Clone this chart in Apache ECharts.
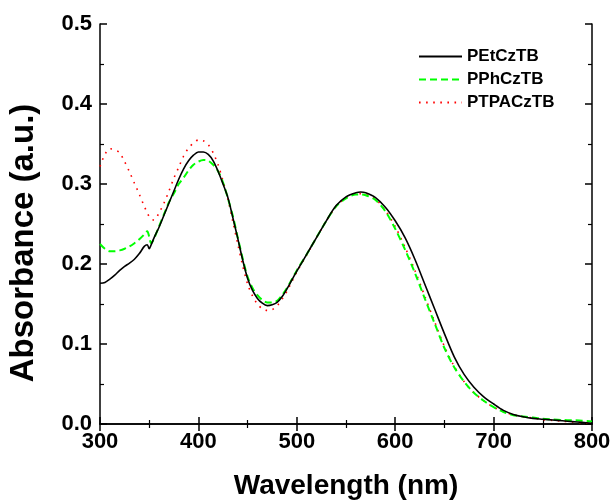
<!DOCTYPE html>
<html>
<head>
<meta charset="utf-8">
<script src="https://cdn.jsdelivr.net/npm/echarts@6/dist/echarts.min.js"></script>
<style>
html,body{margin:0;padding:0;background:#fff;}
#chart{width:613px;height:500px;}
</style>
</head>
<body>
<div id="chart"></div>
<script>
const wavelengths = [300,305,310,315,320,325,330,335,340,345,348,350,352,355,360,365,370,375,380,385,390,395,400,405,410,415,420,425,430,435,440,445,450,455,460,465,470,475,480,485,490,495,500,510,520,530,540,550,560,565,570,580,590,600,610,620,630,640,650,660,670,680,690,700,710,720,730,740,750,760,770,780,790,800];

const pEtCzTB = [0.176,0.177,0.181,0.186,0.192,0.197,0.201,0.206,0.213,0.222,0.224,0.219,0.224,0.233,0.246,0.261,0.276,0.291,0.306,0.319,0.329,0.336,0.340,0.340,0.337,0.329,0.316,0.300,0.283,0.258,0.232,0.205,0.182,0.167,0.157,0.151,0.148,0.149,0.152,0.159,0.169,0.180,0.191,0.212,0.233,0.254,0.273,0.284,0.289,0.290,0.289,0.283,0.271,0.254,0.233,0.206,0.175,0.144,0.113,0.084,0.062,0.046,0.034,0.025,0.017,0.012,0.009,0.007,0.006,0.005,0.004,0.003,0.002,0.001];

const pPhCzTB = [0.225,0.219,0.216,0.216,0.217,0.219,0.222,0.226,0.231,0.237,0.241,0.234,0.226,0.232,0.247,0.262,0.277,0.288,0.300,0.308,0.317,0.324,0.328,0.330,0.329,0.324,0.316,0.302,0.282,0.260,0.233,0.207,0.184,0.170,0.161,0.155,0.152,0.152,0.154,0.161,0.170,0.181,0.192,0.212,0.233,0.254,0.272,0.282,0.287,0.287,0.286,0.280,0.266,0.244,0.218,0.189,0.157,0.126,0.095,0.071,0.053,0.039,0.029,0.021,0.015,0.011,0.0095,0.008,0.0065,0.0058,0.005,0.0047,0.0042,0.003];

const pTPACzTB = [0.322,0.337,0.344,0.343,0.339,0.328,0.315,0.301,0.287,0.272,0.264,0.259,0.256,0.255,0.264,0.276,0.291,0.307,0.321,0.335,0.345,0.351,0.355,0.354,0.349,0.339,0.324,0.304,0.281,0.253,0.225,0.198,0.175,0.160,0.150,0.144,0.142,0.143,0.148,0.156,0.166,0.178,0.190,0.211,0.233,0.254,0.272,0.283,0.288,0.288,0.287,0.281,0.267,0.247,0.221,0.192,0.160,0.128,0.097,0.072,0.053,0.039,0.029,0.021,0.0155,0.0115,0.009,0.0075,0.0055,0.0045,0.0035,0.0025,0.0015,0.001];

const seriesNames = ['PEtCzTB','PPhCzTB','PTPACzTB'];
const xTicks = [300,400,500,600,700,800];
const yTicks = ['0.0','0.1','0.2','0.3','0.4','0.5'];

function pairs(ys){ return wavelengths.map((w,i)=>[w,ys[i]]); }

const FONT = '"Liberation Sans", Arial, sans-serif';
const chart = echarts.init(document.getElementById('chart'), null, {renderer:'canvas'});

const axisLine = {show:true, lineStyle:{color:'#000', width:1.5}};
const tickMajor = {show:true, inside:true, length:7, lineStyle:{color:'#000', width:1.5}};
const tickMinor = {show:true, splitNumber:2, length:4, lineStyle:{color:'#000', width:1.2}};

const option = {
  animation:false,
  backgroundColor:'#fff',
  grid:{left:100, right:21, top:24, bottom:76, containLabel:false, outerBoundsMode:'none'},
  legend:{
    orient:'vertical', left:413, top:43,
    itemWidth:43, itemHeight:16, itemGap:6,
    itemStyle:{opacity:0},
    textStyle:{fontFamily:FONT, fontWeight:'bold', fontSize:17, color:'#000', lineHeight:16},
    data:seriesNames
  },
  xAxis:[{
    type:'value', min:300, max:800, interval:100, position:'bottom',
    name:'Wavelength (nm)', nameLocation:'middle', nameGap:48,
    nameTextStyle:{fontFamily:FONT, fontWeight:'bold', fontSize:28, color:'#000'},
    axisLine:axisLine, axisTick:tickMajor, minorTick:tickMinor,
    splitLine:{show:false},
    axisLabel:{fontFamily:FONT, fontWeight:'bold', fontSize:22, color:'#000', margin:7,
      formatter:v=> xTicks.includes(v) ? String(v) : ''}
  },{
    type:'value', min:300, max:800, interval:100, position:'top',
    axisLine:axisLine, axisTick:tickMajor, minorTick:tickMinor,
    splitLine:{show:false}, axisLabel:{show:false}
  }],
  yAxis:[{
    type:'value', min:0, max:0.5, interval:0.1, position:'left',
    name:'Absorbance (a.u.)', nameLocation:'middle', nameGap:60,
    nameTextStyle:{fontFamily:FONT, fontWeight:'bold', fontSize:33, color:'#000', padding:[0,38,0,0]},
    axisLine:axisLine, axisTick:tickMajor, minorTick:tickMinor,
    splitLine:{show:false},
    axisLabel:{fontFamily:FONT, fontWeight:'bold', fontSize:22, color:'#000', margin:8,
      formatter:v=> yTicks[Math.round(v*10)]}
  },{
    type:'value', min:0, max:0.5, interval:0.1, position:'right',
    axisLine:axisLine, axisTick:tickMajor, minorTick:tickMinor,
    splitLine:{show:false}, axisLabel:{show:false}
  }],
  series:[
    {name:seriesNames[0], type:'line', data:pairs(pEtCzTB), showSymbol:false, symbol:'none', smooth:0.3,
      lineStyle:{color:'#000000', width:1.6, type:'solid'}, itemStyle:{color:'#000000'}, z:3},
    {name:seriesNames[1], type:'line', data:pairs(pPhCzTB), showSymbol:false, symbol:'none', smooth:0.3,
      lineStyle:{color:'#00ff00', width:2, type:[7,4]}, itemStyle:{color:'#00ff00'}, z:2},
    {name:seriesNames[2], type:'line', data:pairs(pTPACzTB), showSymbol:false, symbol:'none', smooth:0.3,
      lineStyle:{color:'#ff0000', width:1.6, type:[1.6,5.5]}, itemStyle:{color:'#ff0000'}, z:1}
  ]
};
chart.setOption(option);
</script>
</body>
</html>
